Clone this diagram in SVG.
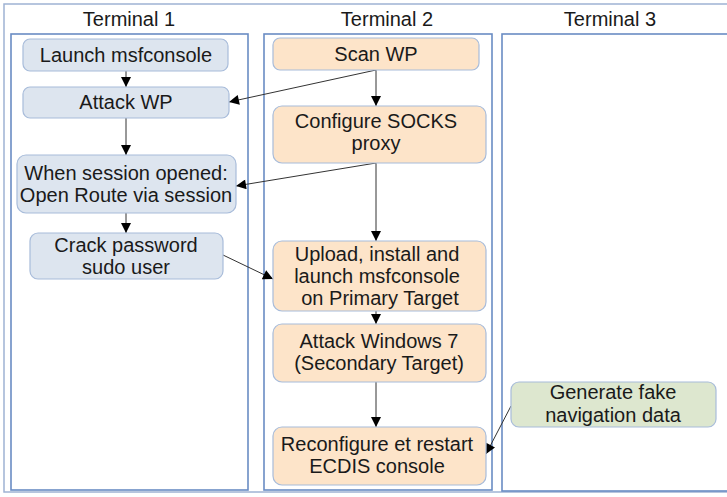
<svg xmlns="http://www.w3.org/2000/svg" width="727" height="497" viewBox="0 0 727 497">
<defs>
<style>
text{font-family:"Liberation Sans",Arial,sans-serif;font-size:20px;fill:#1a1a1a;text-anchor:middle}
.term{fill:none;stroke:#6a8cc4;stroke-width:1.6}
.outer{fill:none;stroke:#9fb3d3;stroke-width:1.5}
.blue{fill:#dde5ef;stroke:#a8bcda;stroke-width:1.2}
.orange{fill:#fde4c9;stroke:#a8bcda;stroke-width:1.2}
.green{fill:#dde7cf;stroke:#a8bcda;stroke-width:1.2}
.conn line{stroke:#333;stroke-width:1;marker-end:url(#arr)}
</style>
<marker id="arr" viewBox="0 0 10 10" refX="10" refY="5" markerWidth="11" markerHeight="10" markerUnits="userSpaceOnUse" orient="auto">
<path d="M0,0 L10,5 L0,10 Z" fill="#000"/>
</marker>
</defs>
<rect width="727" height="497" fill="#fff"/>
<rect class="outer" x="4" y="4" width="730" height="488"/>
<g id="terminal1">
<rect class="term" x="11" y="34" width="237" height="456"/>
<text x="129" y="26">Terminal 1</text>
</g>
<g id="terminal2">
<rect class="term" x="264" y="34" width="228" height="456"/>
<text x="387" y="26">Terminal 2</text>
</g>
<g id="terminal3">
<rect class="term" x="502" y="34" width="230" height="457"/>
<text x="610" y="26">Terminal 3</text>
</g>
<g class="conn" id="connectors">
<line x1="126" y1="71" x2="126" y2="87"/>
<line x1="126" y1="118" x2="126" y2="155"/>
<line x1="126" y1="213" x2="126" y2="233"/>
<line x1="376" y1="70" x2="376" y2="106"/>
<line x1="376" y1="70" x2="229" y2="102"/>
<line x1="376" y1="163" x2="376" y2="241"/>
<line x1="376" y1="163" x2="236" y2="186"/>
<line x1="223" y1="255" x2="273" y2="279"/>
<line x1="376" y1="311" x2="376" y2="324"/>
<line x1="376" y1="382" x2="376" y2="427"/>
<line x1="511" y1="406" x2="486" y2="454"/>
</g>
<g id="launch">
<rect class="blue" x="23" y="39" width="205" height="32" rx="7"/>
<text x="126" y="62">Launch msfconsole</text>
</g>
<g id="attackwp">
<rect class="blue" x="23" y="87" width="206" height="31" rx="7"/>
<text x="126" y="109">Attack WP</text>
</g>
<g id="session">
<rect class="blue" x="17" y="155" width="219" height="58" rx="9"/>
<text x="126" y="180">When session opened:</text>
<text x="126" y="202">Open Route via session</text>
</g>
<g id="crack">
<rect class="blue" x="30" y="233" width="193" height="46" rx="8"/>
<text x="126" y="252">Crack password</text>
<text x="126" y="274">sudo user</text>
</g>
<g id="scanwp">
<rect class="orange" x="273" y="38" width="206" height="32" rx="7"/>
<text x="376" y="61">Scan WP</text>
</g>
<g id="socks">
<rect class="orange" x="273" y="106" width="213" height="57" rx="9"/>
<text x="376" y="128">Configure SOCKS</text>
<text x="376" y="150">proxy</text>
</g>
<g id="upload">
<rect class="orange" x="273" y="241" width="213" height="70" rx="9"/>
<text x="377" y="261">Upload, install and</text>
<text x="377" y="283">launch msfconsole</text>
<text x="380" y="305">on Primary Target</text>
</g>
<g id="win7">
<rect class="orange" x="273" y="324" width="213" height="58" rx="9"/>
<text x="379" y="348">Attack Windows 7</text>
<text x="379" y="370">(Secondary Target)</text>
</g>
<g id="reconfigure">
<rect class="orange" x="273" y="427" width="213" height="58" rx="9"/>
<text x="377" y="451">Reconfigure et restart</text>
<text x="377" y="473">ECDIS console</text>
</g>
<g id="generate">
<rect class="green" x="511" y="382" width="205" height="45" rx="8"/>
<text x="613" y="399">Generate fake</text>
<text x="613" y="422">navigation data</text>
</g>
</svg>
